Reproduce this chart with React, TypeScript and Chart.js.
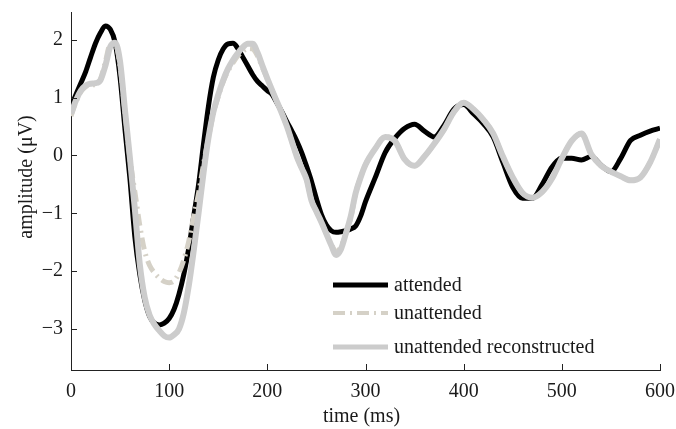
import { useEffect, useRef } from "react";
import { Chart, registerables } from "chart.js";

Chart.register(...registerables);

// ---- data ----
const TIME_MS = [
  0, 5, 10, 15, 20, 25, 30, 35, 40, 45, 50, 55, 60, 65, 70, 75, 80, 85, 90, 95,
  100, 105, 110, 115, 120, 125, 130, 135, 140, 145, 150, 155, 160, 165, 170, 175, 180, 185, 190, 195,
  200, 205, 210, 215, 220, 225, 230, 235, 240, 245, 250, 255, 260, 265, 270, 275, 280, 285, 290, 295,
  300, 310, 320, 330, 340, 350, 360, 370, 380, 390,
  400, 410, 420, 430, 440, 450, 460, 470, 480, 490,
  500, 510, 520, 530, 540, 550, 560, 570, 580, 590, 600,
];

const ATTENDED = [
  0.85, 1.05, 1.25, 1.45, 1.7, 1.94, 2.12, 2.24, 2.18, 1.95, 1.35, 0.45, -0.4, -1.4, -2.05, -2.5, -2.78, -2.9, -2.93, -2.9,
  -2.82, -2.66, -2.4, -2.05, -1.6, -1.05, -0.5, 0.2, 0.85, 1.35, 1.65, 1.84, 1.93, 1.94, 1.85, 1.7, 1.55, 1.4, 1.28, 1.2,
  1.12, 1.05, 0.9, 0.75, 0.58, 0.42, 0.25, 0.05, -0.19, -0.45, -0.75, -1.02, -1.2, -1.3, -1.33, -1.32, -1.3, -1.27, -1.22, -1.05,
  -0.8, -0.38, 0.05, 0.3, 0.47, 0.54, 0.42, 0.32, 0.52, 0.8,
  0.88, 0.72, 0.55, 0.32, -0.12, -0.55, -0.74, -0.74, -0.5, -0.2,
  -0.05, -0.05, -0.08, -0.02, -0.17, -0.28, -0.05, 0.26, 0.35, 0.42, 0.47,
];

const UNATTENDED = [
  0.68, 0.92, 1.1, 1.19, 1.22, 1.22, 1.32, 1.62, 1.92, 1.92, 1.55, 0.75, -0.05, -0.62, -1.2, -1.65, -1.9, -2.03, -2.12, -2.18,
  -2.2, -2.17, -2.03, -1.8, -1.48, -1.05, -0.65, -0.15, 0.3, 0.72, 1.02, 1.27, 1.46, 1.6, 1.72, 1.8, 1.85, 1.84, 1.72, 1.52,
  1.32, 1.12, 0.92, 0.72, 0.5, 0.24, -0.02, -0.22, -0.42, -0.78, -0.97, -1.15, -1.35, -1.53, -1.66, -1.58, -1.35, -1.08, -0.65, -0.38,
  -0.16, 0.12, 0.32, 0.25, -0.07, -0.18, -0.02, 0.2, 0.45, 0.75,
  0.91, 0.8, 0.62, 0.38, -0.02, -0.38, -0.65, -0.73, -0.63, -0.4,
  -0.05, 0.25, 0.38, 0.02, -0.18, -0.28, -0.36, -0.43, -0.38, -0.12, 0.28,
];

const UNATTENDED_RECON = [
  0.72, 0.95, 1.12, 1.21, 1.24, 1.25, 1.3, 1.55, 1.88, 1.95, 1.62, 0.78, -0.04, -0.92, -1.87, -2.45, -2.76, -2.92, -3.03, -3.12,
  -3.15, -3.1, -3.0, -2.72, -2.25, -1.65, -0.99, -0.3, 0.3, 0.75, 1.05, 1.3, 1.5, 1.65, 1.77, 1.87, 1.93, 1.93, 1.78, 1.55,
  1.33, 1.12, 0.92, 0.72, 0.5, 0.24, -0.02, -0.22, -0.42, -0.78, -0.97, -1.15, -1.35, -1.55, -1.72, -1.62, -1.35, -1.05, -0.65, -0.38,
  -0.16, 0.12, 0.32, 0.25, -0.07, -0.18, -0.02, 0.2, 0.45, 0.75,
  0.91, 0.8, 0.62, 0.38, -0.02, -0.38, -0.65, -0.73, -0.63, -0.4,
  -0.05, 0.25, 0.38, 0.02, -0.18, -0.28, -0.36, -0.43, -0.38, -0.12, 0.28,
];

const SERIES_LABELS = ["attended", "unattended", "unattended reconstructed"];
const X_TICKS = [0, 100, 200, 300, 400, 500, 600];
const Y_TICKS = [-3, -2, -1, 0, 1, 2];
const X_TITLE = "time (ms)";
const Y_TITLE = "amplitude (\u03bcV)";

const FONT_FAMILY = '"Liberation Serif", "DejaVu Serif", serif';
const TEXT_COLOR = "#1a1a1a";
const AXIS_COLOR = "#222222";

function toPoints(values: number[]) {
  return TIME_MS.map((t, i) => ({ x: t, y: values[i] }));
}

const decorPlugin = {
  id: "decor",
  afterDraw(chart: any) {
    const ctx: CanvasRenderingContext2D = chart.ctx;
    const { left, right, top, bottom } = chart.chartArea;
    const xs = chart.scales.x;
    const ys = chart.scales.y;
    ctx.save();
    // inward tick marks
    ctx.strokeStyle = AXIS_COLOR;
    ctx.lineWidth = 1;
    ctx.beginPath();
    for (const v of X_TICKS) {
      const px = Math.round(xs.getPixelForValue(v)) + 0.5;
      ctx.moveTo(px, bottom);
      ctx.lineTo(px, bottom - 6);
    }
    for (const v of Y_TICKS) {
      const py = Math.round(ys.getPixelForValue(v)) + 0.5;
      ctx.moveTo(left, py);
      ctx.lineTo(left + 6, py);
    }
    ctx.stroke();

    // axis titles
    ctx.fillStyle = TEXT_COLOR;
    ctx.font = `20px ${FONT_FAMILY}`;
    ctx.textAlign = "center";
    ctx.textBaseline = "alphabetic";
    ctx.fillText(X_TITLE, (left + right) / 2 - 4, 422);
    ctx.save();
    ctx.translate(32, (top + bottom) / 2 - 14);
    ctx.rotate(-Math.PI / 2);
    ctx.fillText(Y_TITLE, 0, 0);
    ctx.restore();

    // legend (inside plot, lower right)
    const rowsY = [285, 313, 347];
    const baseY = [291, 319, 353];
    const x0 = 333;
    const x1 = 388;
    chart.data.datasets.forEach((ds: any, i: number) => {
      ctx.save();
      ctx.strokeStyle = ds.borderColor;
      ctx.lineWidth = i === 1 ? 4 : 5;
      ctx.setLineDash(ds.borderDash || []);
      ctx.lineCap = "butt";
      ctx.beginPath();
      ctx.moveTo(x0, rowsY[i]);
      ctx.lineTo(x1, rowsY[i]);
      ctx.stroke();
      ctx.restore();
      ctx.fillStyle = TEXT_COLOR;
      ctx.font = `20px ${FONT_FAMILY}`;
      ctx.textAlign = "left";
      ctx.textBaseline = "alphabetic";
      ctx.fillText(ds.label, 394, baseY[i]);
    });
    ctx.restore();
  },
};

export default function App() {
  const canvasRef = useRef<HTMLCanvasElement | null>(null);

  useEffect(() => {
    if (!canvasRef.current) return;
    const chart = new Chart(canvasRef.current, {
      type: "line",
      data: {
        datasets: [
          {
            label: SERIES_LABELS[0],
            data: toPoints(ATTENDED),
            borderColor: "#000000",
            borderWidth: 5,
            order: 3,
          },
          {
            label: SERIES_LABELS[1],
            data: toPoints(UNATTENDED),
            borderColor: "#d5d1c7",
            borderWidth: 5,
            borderDash: [12, 5, 2, 5],
            order: 2,
          },
          {
            label: SERIES_LABELS[2],
            data: toPoints(UNATTENDED_RECON),
            borderColor: "#cccccc",
            borderWidth: 6,
            order: 1,
          },
        ] as any,
      },
      options: {
        responsive: false,
        animation: false,
        events: [],
        layout: { padding: { top: 12, right: 16, left: 0, bottom: 0 } },
        elements: {
          point: { radius: 0 },
          line: {
            cubicInterpolationMode: "monotone",
            borderCapStyle: "butt",
            borderJoinStyle: "round",
            fill: false,
          },
        },
        plugins: {
          legend: { display: false },
          tooltip: { enabled: false },
          title: { display: false },
        },
        scales: {
          x: {
            type: "linear",
            min: 0,
            max: 600,
            afterFit: (s: any) => {
              s.height = 59;
              s.paddingLeft = 0;
              s.paddingRight = 0;
            },
            afterBuildTicks: (s: any) => {
              s.ticks = X_TICKS.map((v) => ({ value: v }));
            },
            grid: { display: true, drawOnChartArea: false, drawTicks: false },
            border: { display: true, color: AXIS_COLOR, width: 1 },
            ticks: {
              padding: 10,
              color: TEXT_COLOR,
              font: { family: FONT_FAMILY, size: 20 },
              maxRotation: 0,
              autoSkip: false,
              callback: (v: any) => String(v),
            },
          },
          y: {
            type: "linear",
            min: -3.71,
            max: 2.48,
            afterFit: (s: any) => {
              s.width = 71;
              s.paddingTop = 0;
              s.paddingBottom = 0;
            },
            afterBuildTicks: (s: any) => {
              s.ticks = Y_TICKS.map((v) => ({ value: v }));
            },
            grid: { display: true, drawOnChartArea: false, drawTicks: false },
            border: { display: true, color: AXIS_COLOR, width: 1 },
            ticks: {
              padding: 8,
              color: TEXT_COLOR,
              font: { family: FONT_FAMILY, size: 20 },
              autoSkip: false,
              callback: (v: any) => (Number(v) < 0 ? "\u2212" + Math.abs(Number(v)) : String(v)),
            },
          },
        },
      } as any,
      plugins: [decorPlugin],
    });
    return () => chart.destroy();
  }, []);

  return (
    <div style={{ position: "fixed", left: 0, top: 0, width: 676, height: 429, background: "#fff" }}>
      <canvas ref={canvasRef} width={676} height={429} style={{ width: 676, height: 429, display: "block" }} />
    </div>
  );
}
